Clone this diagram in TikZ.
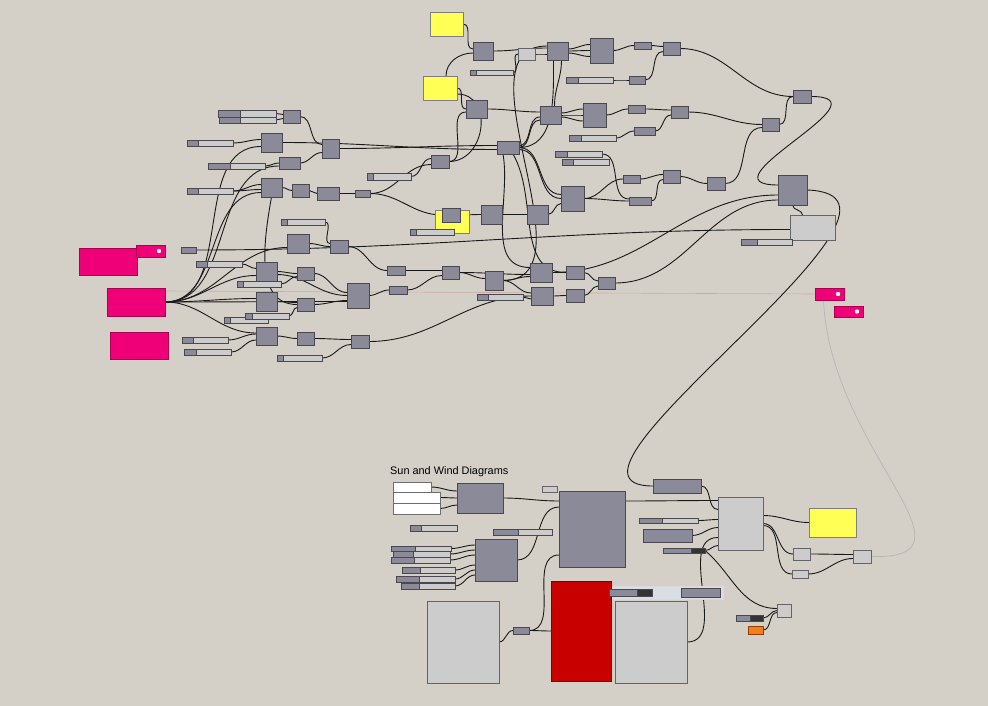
\documentclass[tikz,border=0pt]{standalone}
\usepackage{fontspec}
\setmainfont{Liberation Sans}
\usetikzlibrary{fit,calc}
\definecolor{bgc}{RGB}{212,208,200}
\definecolor{cfill}{RGB}{138,138,152}
\definecolor{cdraw}{RGB}{72,72,78}
\definecolor{lgray}{RGB}{204,204,204}
\definecolor{yelc}{RGB}{255,255,85}
\definecolor{pinkc}{RGB}{240,0,120}
\definecolor{pinkd}{RGB}{170,0,80}
\definecolor{redc}{RGB}{200,0,0}
\definecolor{redd}{RGB}{130,0,0}
\definecolor{orgc}{RGB}{240,128,32}
\definecolor{orgd}{RGB}{150,60,0}
\definecolor{grpc}{RGB}{216,222,228}
\definecolor{knobc}{RGB}{52,52,52}
\definecolor{faintc}{RGB}{178,182,182}
\definecolor{pinkline}{RGB}{205,170,170}
\pgfdeclarelayer{back}
\pgfdeclarelayer{wires}
\pgfsetlayers{back,wires,main}
\tikzset{
  base/.style={inner sep=0pt, outer sep=0pt, line width=0.8pt},
  comp/.style={base, draw=cdraw, fill=cfill},
  lg/.style={base, draw=cdraw!85, fill=lgray},
  yel/.style={base, draw=cdraw!70, fill=yelc},
  pk/.style={base, draw=pinkd, fill=pinkc},
  rd/.style={base, draw=redd, fill=redc},
  wh/.style={base, draw=cdraw!80, fill=white},
  org/.style={base, draw=orgd, fill=orgc},
  grp/.style={base, draw=white!85!black, fill=grpc},
  sl/.style={base, draw=cdraw, fill=lgray},
  sldk/.style={draw=cdraw, fill=cfill, line width=0.8pt},
  knob/.style={draw=cdraw, fill=knobc, line width=0.8pt},
  wire/.style={line width=0.9pt, draw=black!90, out=0, in=180},
}
\newcommand{\bx}[6]{\node[#1, fit={(#3,#4) (#5,#6)}] (#2) {};}
\newcommand{\sld}[6]{\node[sl, fit={(#2,#3) (#4,#5)}] (#1) {};\filldraw[sldk] (#2,#3) rectangle (#6,#5);}
\newcommand{\wi}[3][]{\draw[wire,#1] (#2) to (#3);}
\begin{document}
\begin{tikzpicture}[x=1pt,y=-1pt]
\begin{pgfonlayer}{back}
\fill[bgc] (0,0) rectangle (988,706);
\end{pgfonlayer}
\useasboundingbox (0,0) rectangle (988,706);

% ---------- groups ----------
\bx{yel}{Y3}{435}{210}{469}{233}
\bx{grp}{G}{609}{586}{723}{599}

% ---------- top cluster ----------
\bx{yel}{Y1}{430}{12}{463}{36}
\bx{comp}{A1}{473}{42}{493}{60}
\bx{lg}{L1}{518}{48}{535}{60}
\sld{S1}{470}{70}{513}{75}{476}
\bx{comp}{A2}{547}{42}{568}{60}
\bx{comp}{A3}{590}{38}{613}{63}
\bx{comp}{A4}{634}{42}{651}{49}
\bx{comp}{A5}{663}{42}{680}{55}
\sld{S2}{566}{77}{613}{83}{578}
\bx{comp}{A6}{629}{76}{645}{84}
\bx{yel}{Y2}{423}{76}{457}{100}
\bx{comp}{B1}{466}{100}{487}{118}
\bx{comp}{B2}{540}{106}{561}{124}
\bx{comp}{B3}{583}{103}{606}{127}
\bx{comp}{B4}{628}{105}{645}{113}
\bx{comp}{B5}{671}{106}{688}{118}
\bx{comp}{B6}{634}{127}{655}{135}
\sld{S3}{569}{135}{616}{141}{581}
\bx{comp}{C1}{497}{141}{519}{154}
\sld{S4}{555}{151}{602}{157}{567}
\sld{S5}{562}{159}{609}{165}{573}
\bx{comp}{C2}{431}{155}{449}{168}
\sld{S6}{367}{173}{411}{180}{373}
\bx{comp}{C3}{355}{190}{370}{197}
\bx{comp}{Y3c}{442}{208}{460}{222}
\sld{S25}{410}{229}{454}{235}{416}
\bx{comp}{D1}{481}{205}{502}{224}
\bx{comp}{D2}{527}{205}{548}{224}
\bx{comp}{D3}{561}{186}{584}{211}
\bx{comp}{D4}{623}{175}{640}{183}
\bx{comp}{D5}{663}{170}{680}{183}
\bx{comp}{D6}{629}{197}{651}{205}
\bx{comp}{D7}{707}{177}{725}{190}
\bx{comp}{E1}{793}{90}{811}{103}
\bx{comp}{E2}{762}{118}{779}{131}
\bx{comp}{F1}{778}{175}{807}{205}
\bx{lg}{F2}{790}{215}{835}{240}
\sld{S7}{741}{239}{792}{245}{757}
\bx{comp}{G0}{530}{263}{552}{282}
\bx{comp}{G1}{566}{266}{584}{279}
\bx{comp}{G2}{598}{277}{615}{289}
\bx{comp}{G0b}{531}{287}{553}{305}
\bx{comp}{G3}{566}{289}{584}{302}
\bx{pk}{P1}{815}{288}{844}{300}
\fill[white] (838,294) circle (2.2);
\bx{pk}{P2}{834}{306}{863}{317}
\fill[white] (857,311.5) circle (2.2);
\bx{comp}{H1}{387}{266}{405}{275}
\bx{comp}{H2}{442}{266}{459}{279}
\bx{comp}{H3}{485}{271}{503}{290}
\bx{comp}{H4}{389}{286}{407}{294}
\sld{S8}{477}{294}{523}{300}{488}

% ---------- left cluster ----------
\sld{T1}{218}{110}{276}{117}{240}
\sld{T2}{219}{117}{276}{123}{240}
\bx{comp}{J1}{283}{110}{300}{123}
\sld{S9}{187}{140}{233}{146}{198}
\bx{comp}{J2}{261}{133}{282}{152}
\bx{comp}{J3}{322}{139}{339}{158}
\sld{S10}{208}{163}{265}{169}{230}
\bx{comp}{J4}{279}{157}{300}{169}
\sld{S11}{187}{188}{233}{194}{198}
\bx{comp}{J5}{261}{178}{282}{197}
\bx{comp}{J6}{292}{184}{309}{197}
\bx{comp}{J7}{317}{187}{339}{200}
\sld{S12}{281}{219}{325}{225}{287}
\bx{comp}{K1}{287}{234}{309}{253}
\bx{comp}{K2}{330}{240}{348}{253}
\bx{comp}{K3}{181}{247}{196}{253}
\bx{pk}{PK1}{79}{248}{137}{275}
\bx{pk}{PK1t}{136}{245}{165}{257}
\fill[white] (159,251) circle (2.2);
\sld{S13}{196}{261}{242}{267}{207}
\bx{comp}{K4}{256}{262}{277}{281}
\bx{comp}{K5}{297}{267}{314}{280}
\sld{S14}{237}{281}{281}{287}{243}
\bx{pk}{PK2}{107}{288}{165}{316}
\bx{comp}{K6}{347}{283}{369}{308}
\bx{comp}{K7}{256}{292}{277}{311}
\bx{comp}{K8}{297}{298}{314}{311}
\sld{S15}{224}{317}{268}{323}{230}
\sld{S16}{245}{313}{289}{319}{252}
\bx{pk}{PK3}{110}{332}{168}{359}
\sld{S17}{182}{337}{228}{343}{193}
\sld{S18}{184}{349}{231}{355}{196}
\bx{comp}{K9}{256}{327}{277}{345}
\bx{comp}{K10}{297}{332}{314}{345}
\bx{comp}{K11}{351}{335}{369}{348}
\sld{S19}{277}{355}{322}{361}{283}

% ---------- bottom cluster ----------
\node[anchor=west, inner sep=0pt, text=black, font=\fontsize{10.9}{12}\selectfont] (title) at (390,472) {Sun and Wind Diagrams};
\bx{wh}{W1}{393}{482}{431}{492}
\bx{wh}{W2}{393}{492}{440}{503}
\bx{wh}{W3}{393}{503}{440}{514}
\bx{comp}{M1}{457}{483}{503}{513}
\bx{lg}{L2}{542}{486}{557}{492}
\bx{comp}{M2}{559}{491}{625}{567}
\sld{S20}{410}{525}{457}{531}{421}
\sld{S21}{493}{529}{552}{535}{518}
\sld{U1}{391}{546}{451}{551}{415}
\sld{U2}{393}{551}{450}{557}{413}
\sld{U3}{391}{557}{450}{563}{414}
\sld{U4}{402}{567}{455}{573}{420}
\sld{U5}{396}{576}{455}{582}{419}
\sld{U6}{401}{583}{455}{589}{419}
\bx{comp}{M3}{475}{539}{517}{581}
\bx{lg}{N1}{427}{601}{499}{683}
\bx{comp}{N2}{513}{627}{529}{634}
\bx{rd}{R}{551}{581}{611}{681}
\node[base, draw=cdraw, fill=cfill, fit={(609,589) (652,596)}] (GS) {};
\filldraw[knob] (637,589) rectangle (652,596);
\bx{comp}{GC}{681}{588}{720}{597}
\bx{lg}{N3}{615}{601}{687}{683}
\bx{comp}{M4}{653}{479}{701}{493}
\bx{lg}{N4}{718}{497}{763}{550}
\sld{S22}{639}{518}{698}{523}{662}
\bx{comp}{M5}{643}{529}{692}{542}
\node[base, draw=cdraw, fill=cfill, fit={(663,548) (705,553)}] (S23) {};
\filldraw[knob] (691,548) rectangle (705,553);
\bx{yel}{Y4}{809}{508}{856}{537}
\bx{lg}{Q1}{793}{548}{810}{560}
\bx{lg}{Q2}{792}{570}{808}{578}
\bx{lg}{Q3}{853}{550}{871}{563}
\bx{lg}{Q4}{777}{604}{791}{617}
\node[base, draw=cdraw, fill=cfill, fit={(736,615) (763,621)}] (S24) {};
\filldraw[knob] (750,615) rectangle (763,621);
\bx{org}{O}{748}{626}{763}{634}

% ---------- wires ----------
\begin{pgfonlayer}{wires}
\draw[pinkline, line width=0.6pt] ([yshift=-3]PK2.north east) -- (P1.west);
\draw[faintc, line width=0.7pt] ([xshift=-6]P1.south) .. controls (830,450) and (990,560) .. (Q3.east);
% top
\wi{Y1.east}{[yshift=2]A1.west}
\draw[wire] ([xshift=6]Y2.north) to[out=90,in=180] ([yshift=-2]A1.west);
\wi{A1.east}{[yshift=3]A2.west}
\wi{S1.east}{L1.west}
\wi{L1.east}{[yshift=-3]A2.west}
\wi{[yshift=2]A2.east}{[yshift=6]A3.west}
\wi{A2.east}{A3.west}
\wi{[yshift=-2]A2.east}{[yshift=-6]A3.west}
\wi{A3.east}{A4.west}
\wi{A4.east}{[yshift=2]A5.west}
\wi{S2.east}{A6.west}
\wi{A6.east}{[yshift=-3]A5.west}
\wi{A5.east}{E1.west}
\wi{Y2.east}{B1.west}
\wi{B1.east}{[yshift=3]B2.west}
\draw[wire] ([xshift=4]A2.south) to[out=-90,in=90] ([xshift=4]B2.north);
\wi{[yshift=2]B2.east}{[yshift=6]B3.west}
\wi{B2.east}{B3.west}
\wi{[yshift=-2]B2.east}{[yshift=-6]B3.west}
\wi{B3.east}{B4.west}
\wi{B4.east}{[yshift=2]B5.west}
\wi{S3.east}{B6.west}
\wi{B6.east}{[yshift=-3]B5.west}
\wi{B5.east}{E2.west}
\wi{E2.east}{E1.west}
\wi[looseness=2.2]{E1.east}{[yshift=5]F1.west}
\wi{C2.east}{[yshift=-3]B1.west}
\draw[wire] (C2.east) to[out=0,in=0,looseness=1.4] ([yshift=-6]Y2.east);
\wi{J3.east}{[yshift=2]C1.west}
\wi{J2.east}{[yshift=-2]C1.west}
\wi{S6.east}{[yshift=3]C2.west}
\wi{C3.east}{[yshift=-3]C2.west}
\wi{C3.east}{Y3c.west}
\wi{[yshift=2]C1.east}{[yshift=-2]B2.west}
\wi{C1.east}{[yshift=-5]B2.west}
\draw[wire] (C1.east) to[out=0,in=-90] ([xshift=-4]A2.south);
\wi{C1.east}{[yshift=4]D3.west}
\wi{[yshift=-2]C1.east}{D3.west}
\draw[wire] ([xshift=-5]C1.south) to[out=-80,in=180] ([yshift=5]G0.west);
\draw[wire] ([xshift=5]C1.south) to[out=-60,in=180] (G1.west);
\wi{H3.east}{[yshift=5]A2.west}
\wi{Y3c.east}{D1.west}
\wi{D1.east}{D2.west}
\wi{D2.east}{[yshift=-5]D3.west}
\wi{D3.east}{D4.west}
\wi{D3.east}{D6.west}
\wi{S4.east}{[yshift=2]D6.west}
\wi{D4.east}{[yshift=2]D5.west}
\wi{D6.east}{[yshift=-3]D5.west}
\wi{D5.east}{D7.west}
\wi{D7.east}{[yshift=-3]E2.west}
\wi{G2.east}{[yshift=-10]F1.west}
\wi{G0.east}{[yshift=-5]F1.west}
\draw[wire] (F1.south) to[out=-90,in=90] ([xshift=-10]F2.north);
\draw[wire] (F1.east) .. controls (960,195) and (520,486) .. (M4.west);
\wi{K3.east}{[yshift=-2]F2.west}
\wi{K2.east}{H1.west}
\wi{H1.east}{[yshift=2]H2.west}
\wi{K6.east}{H4.west}
\wi{H4.east}{[yshift=-3]H2.west}
\wi{H2.east}{[yshift=2]H3.west}
\wi{H2.east}{[yshift=-2]G0.west}
\wi{H3.east}{[yshift=-4]G0.west}
\wi{H3.east}{[yshift=3]G0b.west}
\wi{S8.east}{[yshift=-3]G0b.west}
\wi{G0.east}{G1.west}
\wi{G0b.east}{G3.west}
\wi{G1.east}{[yshift=2]G2.west}
\wi{G3.east}{[yshift=-3]G2.west}
\wi{K11.east}{G0b.west}
% left
\wi{T1.east}{[yshift=2]J1.west}
\wi{T2.east}{[yshift=-2]J1.west}
\wi{J1.east}{[yshift=4]J3.west}
\wi{S9.east}{[yshift=3]J2.west}
\wi{J4.east}{[yshift=-4]J3.west}
\wi{S10.east}{J4.west}
\wi{S11.east}{[yshift=3]J5.west}
\wi{S11.east}{[yshift=-2]J5.west}
\wi{J5.east}{J6.west}
\wi{J6.east}{J7.west}
\wi{J7.east}{C3.west}
\draw[wire] (J5.south) to[out=-100,in=180] (K8.west);
\wi{S12.east}{[yshift=3]K2.west}
\wi{K1.east}{K2.west}
\wi{PK2.east}{[yshift=-4]J2.west}
\wi{PK2.east}{[yshift=-3]J4.west}
\wi{PK2.east}{[yshift=-5]J5.west}
\wi{PK2.east}{[yshift=-4]K1.west}
\wi{PK2.east}{[yshift=-4]K4.west}
\wi{PK2.east}{[yshift=-6]K6.west}
\wi{PK2.east}{[yshift=3]K7.west}
\wi{PK2.east}{[yshift=3]K9.west}
\wi{S13.east}{[yshift=3]K4.west}
\wi{K4.east}{K5.west}
\wi{K5.east}{[yshift=3]K6.west}
\wi{[yshift=-3]K4.east}{K6.west}
\wi{S14.east}{[yshift=-3]K5.west}
\wi{S16.east}{[yshift=-3]K8.west}
\wi{K7.east}{[yshift=2]K8.west}
\wi{K8.east}{[yshift=-5]K6.west}
\wi{S17.east}{[yshift=2]K9.west}
\wi{S18.east}{[yshift=-4]K9.west}
\wi{K9.east}{K10.west}
\wi{K10.east}{[yshift=2]K11.west}
\wi{S19.east}{[yshift=-3]K11.west}
% bottom
\wi{W1.east}{[yshift=7]M1.west}
\wi{W2.east}{M1.west}
\wi{W3.east}{[yshift=-7]M1.west}
\wi{M1.east}{[yshift=28]M2.west}
\wi{[yshift=28]M2.east}{[yshift=23]N4.west}
\wi{M3.east}{[yshift=22]M2.west}
\wi{U1.east}{[yshift=15]M3.west}
\wi{U2.east}{[yshift=10]M3.west}
\wi{U3.east}{[yshift=5]M3.west}
\wi{U4.east}{[yshift=-5]M3.west}
\wi{U5.east}{[yshift=-10]M3.west}
\wi{U6.east}{[yshift=-15]M3.west}
\wi{N1.east}{N2.west}
\wi{N2.east}{[yshift=-26]M2.west}
\wi{N2.east}{R.west}
\draw[wire, line width=0.6pt, draw=cdraw] (GS.east) -- (GC.west);
\wi{M4.east}{[yshift=14]N4.west}
\wi{S22.east}{[yshift=4]N4.west}
\wi{M5.east}{[yshift=-4]N4.west}
\wi{N3.east}{[yshift=-14]N4.west}
\wi{S23.east}{[yshift=-22]N4.west}
\wi{[yshift=8]N4.east}{Y4.west}
\wi{N4.east}{Q1.west}
\wi{[yshift=-2]N4.east}{Q2.west}
\wi{Q1.east}{[yshift=2]Q3.west}
\wi{Q2.east}{[yshift=-2]Q3.west}
\draw[wire] (S23.east) to[out=-40,in=180] ([yshift=2]Q4.west);
\wi{S24.east}{Q4.west}
\wi{O.east}{[yshift=-2]Q4.west}
\end{pgfonlayer}
\end{tikzpicture}
\end{document}
